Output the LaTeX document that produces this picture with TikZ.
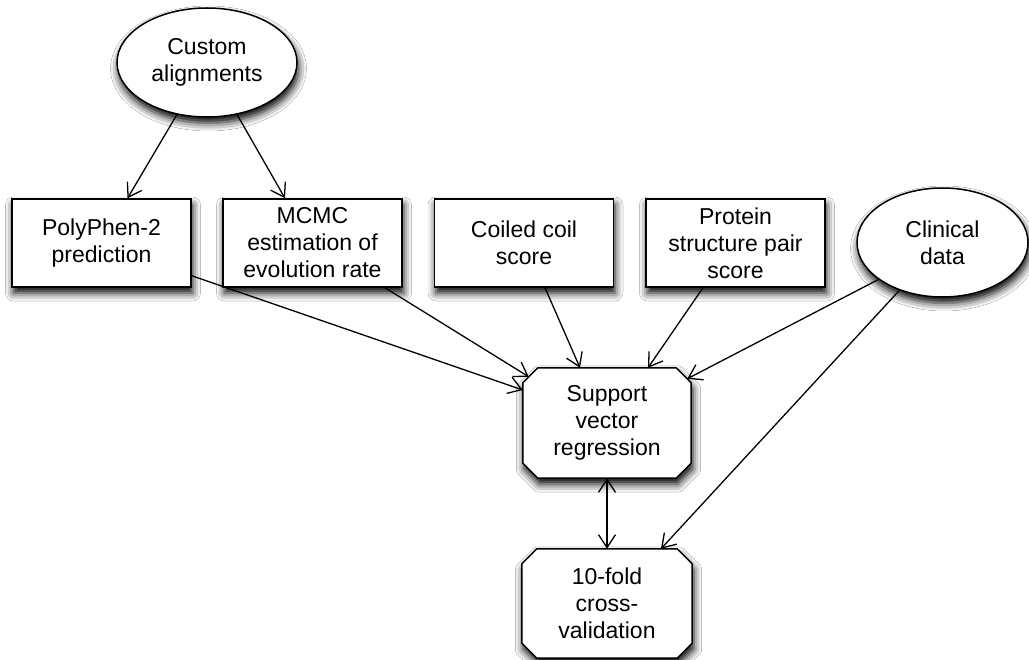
\documentclass[tikz,border=0pt]{standalone}
\usepackage{fontspec}
\setmainfont{Liberation Sans}
\usetikzlibrary{shapes.geometric,shadows.blur,arrows.meta}
\pgfdeclarelayer{bg}
\pgfsetlayers{bg,main}
\begin{document}
\begin{tikzpicture}[x=1pt,y=-1pt,
  every node/.style={font=\fontsize{23}{27}\selectfont, align=center, inner sep=0pt},
  shad/.style={blur shadow={shadow xshift=1.5pt, shadow yshift=-6pt, shadow blur radius=8pt, shadow opacity=100}},
  boxnode/.style={draw, line width=1.5pt, fill=white, rectangle, minimum width=179pt, minimum height=88pt, shad},
  ellnode/.style={draw, line width=1.5pt, fill=white, ellipse, shad},
  octnode/.style={rectangle, minimum width=168pt, minimum height=110pt},
  octline/.style={draw, line width=1.5pt, fill=white, line join=miter, shad},
  arr/.style={line width=1.3pt, -{Straight Barb[length=13pt,width=17pt,line width=1.3pt]}},
  darr/.style={line width=1.3pt, {Straight Barb[length=13pt,width=17pt,line width=1.3pt]}-{Straight Barb[length=13pt,width=17pt,line width=1.3pt]}}
]
\useasboundingbox (0,0) rectangle (1029,660);

\node[ellnode, minimum width=180pt, minimum height=109pt] (ca) at (207,62.5) {Custom\\alignments};
\node[boxnode] (pp) at (101.5,243) {PolyPhen-2\\prediction};
\node[boxnode] (mc) at (312.5,243) {MCMC\\estimation of\\evolution rate};
\node[boxnode] (cc) at (524,243) {Coiled coil\\score};
\node[boxnode] (ps) at (735.5,243) {Protein\\structure pair\\score};
\node[ellnode, minimum width=171pt, minimum height=109pt] (cd) at (942.5,242.5) {Clinical\\data};
\node[octnode] (svr) at (607,423) {Support\\vector\\regression};
\node[octnode, minimum width=170pt, minimum height=109pt] (tf) at (607,603.5) {10-fold\\cross-\\validation};

\begin{pgfonlayer}{bg}
\fill[white] (0,0) rectangle (1029,660);
\foreach \n in {svr,tf}{
  \path[octline] ([xshift=15pt]\n.north west) -- ([xshift=-15pt]\n.north east) -- ([yshift=-15pt]\n.north east) -- ([yshift=15pt]\n.south east) -- ([xshift=-15pt]\n.south east) -- ([xshift=15pt]\n.south west) -- ([yshift=15pt]\n.south west) -- ([yshift=-15pt]\n.north west) -- cycle;
}
\end{pgfonlayer}

\draw[arr] (ca.240) -- ([xshift=26pt]pp.north);
\draw[arr] (ca.300) -- ([xshift=-27.5pt]mc.north);
\draw[arr] ([yshift=12pt]pp.south east) -- ([yshift=33pt]svr.west);
\draw[arr] ([xshift=72.5pt]mc.south) -- ([xshift=6pt,yshift=-9pt]svr.north west);
\draw[arr] ([xshift=21pt]cc.south) -- ([xshift=-27pt]svr.north);
\draw[arr] ([xshift=-32.5pt]ps.south) -- ([xshift=41pt]svr.north);
\draw[arr] (cd.210) -- ([xshift=-4pt,yshift=-11pt]svr.north east);
\draw[arr] (cd.228) -- ([xshift=54pt]tf.north);
\draw[darr] (svr.south) -- (tf.north);
\end{tikzpicture}
\end{document}
